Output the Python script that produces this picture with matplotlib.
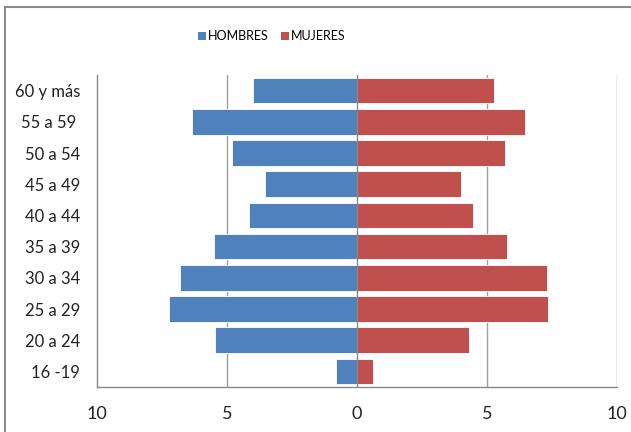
import numpy as np
import matplotlib
matplotlib.use('Agg')
import matplotlib.pyplot as plt
from matplotlib.patches import Rectangle, Patch

# grupos de edad (de abajo hacia arriba) y porcentajes por sexo
grupos = ["16 -19", "20 a 24", "25 a 29", "30 a 34", "35 a 39",
          "40 a 44", "45 a 49", "50 a 54", "55 a 59 ", "60 y más"]
hombres = [0.8, 5.45, 7.25, 6.8, 5.5, 4.15, 3.55, 4.8, 6.35, 4.0]
mujeres = [0.62, 4.3, 7.35, 7.3, 5.75, 4.45, 4.0, 5.7, 6.45, 5.25]

ticks_x = [-10, -5, 0, 5, 10]
etiquetas_x = ["10", "5", "0", "5", "10"]

azul = '#4F81BD'
rojo = '#C0504D'
gris = '#A0A0A0'


def main():
    plt.rcParams['font.family'] = ['Lato', 'DejaVu Sans']

    fig = plt.figure(figsize=(6.31, 4.32), dpi=100)
    ax = fig.add_axes([97 / 631, 1 - 387 / 432, 520 / 631, 312 / 432])

    y = np.arange(len(grupos))
    ax.barh(y, -np.array(hombres), height=0.82, color=azul,
            edgecolor='white', linewidth=0.6, zorder=2)
    ax.barh(y, mujeres, height=0.82, color=rojo,
            edgecolor='white', linewidth=0.6, zorder=2)

    # lineas de division verticales
    for xv in [-5, 5, 10]:
        ax.axvline(xv, color=gris, linewidth=1.0, zorder=1)
    ax.axvline(0, color='#888888', linewidth=1.0, zorder=3)

    ax.set_xlim(-10, 10)
    ax.set_ylim(-0.5, len(grupos) - 0.5)
    ax.set_xticks(ticks_x)
    ax.set_xticklabels(etiquetas_x, fontsize=13, color='#222222')
    ax.set_yticks(y)
    ax.set_yticklabels(grupos, fontsize=12, color='#222222')
    ax.tick_params(axis='x', length=0, pad=14)
    ax.tick_params(axis='y', length=0, pad=12)

    for lado in ['top', 'right']:
        ax.spines[lado].set_visible(False)
    for lado in ['left', 'bottom']:
        ax.spines[lado].set_color('#888888')
        ax.spines[lado].set_linewidth(1.0)

    manijas = [Patch(facecolor=azul, label='HOMBRES'),
               Patch(facecolor=rojo, label='MUJERES')]
    fig.legend(handles=manijas, loc='center', ncol=2,
               bbox_to_anchor=(272 / 631, 1 - 36 / 432), frameon=False,
               fontsize=9, handlelength=0.6, handleheight=0.6,
               handletextpad=0.2, columnspacing=1.0)

    # marco exterior del grafico
    marco = Rectangle((5 / 631, -0.1), 1.2, 1 - 7 / 432 + 0.1,
                      transform=fig.transFigure, fill=False,
                      edgecolor='#8C8C8C', linewidth=1.5, clip_on=False)
    fig.patches.append(marco)

    fig.savefig('out.png', dpi=100)


if __name__ == "__main__":
    main()
